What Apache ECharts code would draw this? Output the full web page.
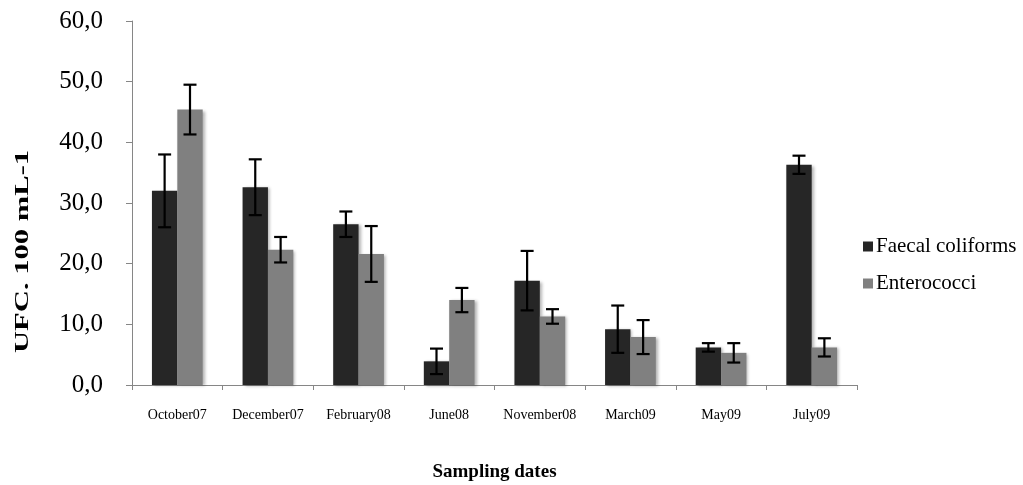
<!DOCTYPE html>
<html>
<head>
<meta charset="utf-8">
<script src="https://cdn.jsdelivr.net/npm/echarts@6/dist/echarts.min.js"></script>
<style>html,body{margin:0;padding:0;background:#fff}#c{width:1023px;height:485px}</style>
</head>
<body>
<div id="c"></div>
<script>
var categories = ['October07', 'December07', 'February08', 'June08', 'November08', 'March09', 'May09', 'July09'];
var faecal = [32.0, 32.6, 26.5, 3.9, 17.2, 9.2, 6.2, 36.3];
var faecalErr = [6.0, 4.6, 2.1, 2.1, 4.9, 3.9, 0.7, 1.5];
var entero = [45.4, 22.3, 21.6, 14.0, 11.3, 7.9, 5.3, 6.2];
var enteroErr = [4.1, 2.1, 4.6, 2.0, 1.2, 2.8, 1.6, 1.5];
var yTicks = [0, 10, 20, 30, 40, 50, 60];

var BAR_FRAC = 0.28;
var font = 'Liberation Serif';

function errSeries(vals, errs, side) {
  return {
    type: 'custom',
    z: 10,
    silent: true,
    data: vals.map(function (v, i) { return [i, v - errs[i], v + errs[i]]; }),
    renderItem: function (params, api) {
      var band = api.size([1, 0])[0];
      var bw = band * BAR_FRAC;
      var lo = api.coord([api.value(0), api.value(1)]);
      var hi = api.coord([api.value(0), api.value(2)]);
      var x = lo[0] + side * bw / 2;
      var cap = 6.5;
      var st = { stroke: '#000', lineWidth: 2.2 };
      return {
        type: 'group',
        children: [
          { type: 'line', shape: { x1: x, y1: hi[1], x2: x, y2: lo[1] }, style: st },
          { type: 'line', shape: { x1: x - cap, y1: hi[1], x2: x + cap, y2: hi[1] }, style: st },
          { type: 'line', shape: { x1: x - cap, y1: lo[1], x2: x + cap, y2: lo[1] }, style: st }
        ]
      };
    },
    encode: { x: 0, y: [1, 2] }
  };
}

var chart = echarts.init(document.getElementById('c'), null, { renderer: 'canvas' });
chart.setOption({
  animation: false,
  backgroundColor: '#fff',
  grid: { left: 132, right: 166, top: 21, bottom: 100, containLabel: false, outerBoundsMode: 'none' },
  legend: {
    orient: 'vertical',
    left: 858,
    top: 231,
    itemWidth: 10,
    itemHeight: 10,
    itemGap: 16,
    icon: 'rect',
    textStyle: { fontFamily: font, fontSize: 21, color: '#000', padding: [0, 0, 0, -2] },
    data: ['Faecal coliforms', 'Enterococci']
  },
  xAxis: {
    type: 'category',
    data: categories,
    name: 'Sampling dates',
    nameLocation: 'middle',
    nameGap: 78,
    nameTextStyle: { fontFamily: font, fontSize: 19, fontWeight: 'bold', color: '#000' },
    axisLine: { lineStyle: { color: '#868686', width: 1 } },
    axisTick: { show: true, length: 5, lineStyle: { color: '#868686' } },
    axisLabel: { fontFamily: font, fontSize: 14, color: '#000', margin: 23, interval: 0 }
  },
  yAxis: {
    type: 'value',
    min: 0,
    max: 60,
    interval: 10,
    splitLine: { show: false },
    axisLine: { show: true, lineStyle: { color: '#868686', width: 1 } },
    axisTick: { show: true, length: 6, lineStyle: { color: '#868686' } },
    axisLabel: {
      fontFamily: font, fontSize: 25, color: '#000', margin: 29,
      formatter: function (v) { return v.toFixed(1).replace('.', ','); }
    }
  },
  graphic: [{
    type: 'text',
    x: 14,
    y: 353,
    rotation: Math.PI / 2,
    scaleX: 1.7,
    style: { text: 'UFC. 100 mL-1', font: 'bold 18px "Liberation Serif"', fill: '#000', textAlign: 'left', textVerticalAlign: 'top' }
  }],
  series: [
    {
      name: 'Faecal coliforms',
      type: 'bar',
      data: faecal,
      barWidth: (BAR_FRAC * 100) + '%',
      barGap: '0%',
      itemStyle: { color: '#262626', shadowBlur: 3, shadowOffsetX: 2, shadowOffsetY: 1, shadowColor: 'rgba(0,0,0,0.3)' }
    },
    {
      name: 'Enterococci',
      type: 'bar',
      data: entero,
      barWidth: (BAR_FRAC * 100) + '%',
      barGap: '0%',
      itemStyle: { color: '#808080', shadowBlur: 3, shadowOffsetX: 2, shadowOffsetY: 1, shadowColor: 'rgba(0,0,0,0.3)' }
    },
    errSeries(faecal, faecalErr, -1),
    errSeries(entero, enteroErr, 1)
  ]
});
</script>
</body>
</html>
